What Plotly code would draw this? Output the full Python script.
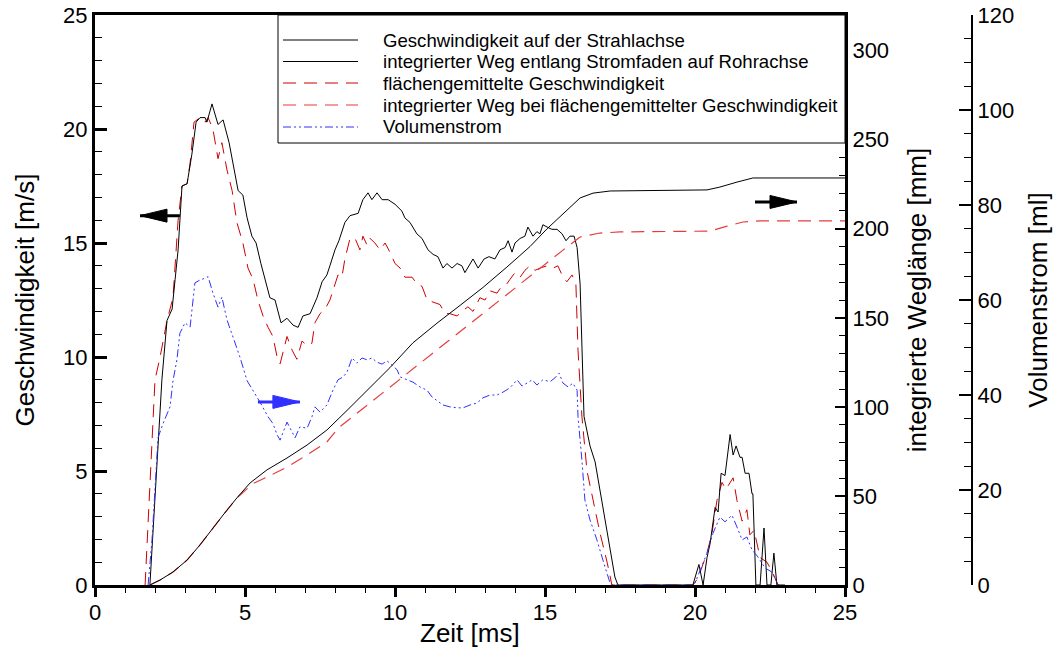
import plotly.graph_objects as go

# ---------------- data ----------------
# Geschwindigkeit auf der Strahlachse  [m/s]
t_vax = [1.83, 2.0, 2.23, 2.4, 2.57, 2.67, 2.77, 2.9, 3.07, 3.23, 3.37, 3.5, 3.67, 3.73, 3.9, 4.1, 4.27,
         4.47, 4.63, 4.77, 4.93, 5.07, 5.23, 5.37, 5.53, 5.7, 5.83, 6.0, 6.2, 6.4, 6.6, 6.77, 6.93, 7.17,
         7.4, 7.57, 7.73, 7.83, 8.0, 8.13, 8.33, 8.5, 8.77, 8.93, 9.1, 9.23, 9.4, 9.57, 9.77, 10.0, 10.23,
         10.33, 10.5, 10.73, 10.9, 11.1, 11.27, 11.43, 11.6, 11.73, 11.9, 12.07, 12.23, 12.33, 12.5, 12.6,
         12.77, 12.97, 13.13, 13.33, 13.5, 13.67, 13.77, 13.9, 14.0, 14.17, 14.33, 14.43, 14.6, 14.73,
         14.83, 14.93, 15.07, 15.23, 15.4, 15.57, 15.7, 15.83, 15.97, 16.07, 16.17, 16.23, 16.3, 16.33,
         16.5, 16.67, 16.83, 17.0, 17.17, 17.33, 17.43, 19.93, 20.13, 20.27, 20.4, 20.5, 20.67, 20.77,
         20.87, 21.0, 21.17, 21.27, 21.37, 21.5, 21.57, 21.67, 21.8, 21.9, 21.93, 22.03, 22.17, 22.3,
         22.4, 22.53, 22.63, 22.73, 23.0]
v_vax = [0.0, 3.7, 9.0, 11.6, 12.1, 13.4, 14.7, 17.5, 17.6, 18.9, 20.3, 20.5, 20.5, 20.3, 21.1, 20.2, 20.4,
         19.4, 18.3, 17.3, 17.1, 16.1, 15.3, 15.0, 14.1, 13.2, 12.6, 12.5, 11.5, 11.7, 11.4, 11.3, 11.8, 11.9,
         12.6, 13.3, 13.6, 14.0, 14.7, 15.1, 15.9, 16.2, 16.3, 16.9, 17.2, 16.9, 17.2, 16.9, 16.9, 16.7, 16.4,
         16.1, 15.9, 15.4, 15.2, 14.7, 14.5, 14.4, 13.9, 14.1, 13.9, 14.1, 14.0, 13.7, 14.1, 14.3,
         13.9, 14.3, 14.4, 14.3, 14.7, 14.8, 15.1, 14.6, 15.0, 15.2, 15.3, 15.7, 15.3, 15.5,
         15.4, 15.8, 15.7, 15.6, 15.6, 15.4, 15.1, 15.3, 15.3, 14.8, 13.2, 10.3, 7.4, 7.2,
         6.1, 5.4, 4.2, 3.0, 1.7, 0.35, 0.0, 0.0, 0.9, 0.0, 1.2, 1.8, 3.4, 3.2,
         4.9, 4.8, 6.6, 5.7, 6.1, 5.6, 5.6, 4.9, 4.9, 4.0, 4.0, 0.0, 0.0, 2.5,
         0.0, 0.0, 1.4, 0.0, 0.0]

# integrierter Weg entlang Stromfaden auf Rohrachse  [mm]
t_wax = [1.83, 2.17, 2.6, 3.07, 3.5, 3.93, 4.27, 4.73, 5.17, 5.73, 6.4, 7.07, 7.73, 8.4, 9.07, 9.83,
         10.6, 11.4, 12.17, 12.93, 13.73, 14.5, 15.07, 15.5, 16.17, 16.6, 17.17, 20.4, 20.83, 21.4,
         21.93, 25.0]
w_wax = [0.0, 2.8, 7.3, 14.0, 22.5, 32.0, 39.3, 48.9, 57.3, 64.6, 71.3, 78.6, 87.0, 98.0, 109.5, 122.0,
         136.0, 147.0, 157.0, 167.0, 178.5, 190.0, 200.0, 206.6, 217.3, 220.0, 221.2, 221.8, 223.4, 226.2,
         228.5, 228.5]

# flächengemittelte Geschwindigkeit  [m/s]
t_vfl = [1.67, 2.0, 2.17, 2.4, 2.6, 2.77, 2.9, 3.07, 3.17, 3.3, 3.5, 3.67, 3.77, 3.93, 4.1, 4.23, 4.4,
         4.57, 4.73, 4.93, 5.1, 5.27, 5.43, 5.6, 5.77, 5.93, 6.07, 6.17, 6.4, 6.57, 6.73, 6.9, 7.07, 7.23,
         7.33, 7.5, 7.67, 7.83, 7.93, 8.1, 8.23, 8.33, 8.5, 8.67, 8.83, 8.93, 9.07, 9.17, 9.33, 9.5, 9.67,
         9.83, 10.0, 10.17, 10.33, 10.57, 10.73, 10.9, 11.07, 11.27, 11.5, 11.67, 11.83, 12.07, 12.23,
         12.43, 12.6, 12.83, 13.0, 13.17, 13.4, 13.5, 13.67, 13.83, 14.0, 14.17, 14.33, 14.5, 14.67,
         14.83, 15.07, 15.27, 15.43, 15.6, 15.73, 15.9, 16.03, 16.1, 16.23, 16.4, 16.57, 16.83, 17.07,
         17.23, 19.93, 20.1, 20.4, 20.57, 20.73, 20.9, 21.03, 21.27, 21.4, 21.57, 21.73, 21.83, 21.97,
         22.17, 22.4, 22.6, 22.77, 23.07]
v_vfl = [0.0, 9.0, 10.0, 11.6, 12.6, 16.0, 17.5, 17.6, 18.5, 20.3, 20.5, 20.3, 20.5, 20.0, 18.7, 19.4, 18.2,
         17.3, 15.9, 15.0, 13.9, 13.4, 12.5, 11.8, 11.3, 10.9, 10.0, 9.7, 10.9, 10.3, 9.9, 10.7, 10.5, 10.6,
         11.5, 11.9, 12.1, 12.5, 12.9, 13.6, 13.5, 14.3, 15.2, 15.2, 14.7, 15.3, 14.9, 15.2, 15.0, 14.7, 15.0,
         14.6, 14.1, 13.9, 13.5, 13.5, 13.2, 13.1, 12.5, 12.4, 12.3, 11.9, 11.9, 11.8, 12.0,
         12.2, 12.0, 12.6, 12.5, 12.9, 12.8, 13.0, 13.1, 13.4, 13.7, 13.5, 13.8, 14.0, 13.8,
         13.9, 14.0, 13.9, 14.0, 13.5, 13.3, 13.6, 13.2, 10.3, 7.4, 5.0, 3.9, 2.3, 1.0,
         0.0, 0.0, 0.3, 1.4, 2.3, 3.7, 4.5, 4.2, 4.7, 3.7, 2.8, 3.3, 2.2, 2.4,
         1.2, 1.0, 0.5, 0.0, 0.0]

# integrierter Weg bei flächengemittelter Geschwindigkeit  [mm]
t_wfl = [1.83, 2.17, 2.6, 3.07, 3.5, 3.93, 4.27, 4.73, 5.27, 5.73, 6.4, 7.07, 7.73, 8.1, 10.07, 11.73,
         13.27, 14.6, 15.6, 16.17, 16.83, 17.5, 20.5, 21.07, 21.6, 22.17, 25.0]
w_wfl = [0.0, 2.8, 7.3, 14.0, 22.5, 32.0, 39.3, 48.9, 57.0, 60.6, 66.2, 73.0, 80.3, 88.0, 114.4, 136.6,
         157.0, 175.0, 188.0, 195.4, 197.6, 198.2, 198.7, 201.5, 203.8, 204.4, 204.4]

# Volumenstrom  [ml]
t_vol = [1.77, 1.9, 2.1, 2.27, 2.5, 2.6, 2.73, 2.83, 3.0, 3.17, 3.33, 3.5, 3.67, 3.77, 3.93, 4.1, 4.23,
         4.4, 4.6, 4.83, 5.07, 5.33, 5.5, 5.77, 5.93, 6.07, 6.17, 6.4, 6.57, 6.67, 6.83, 7.07, 7.23, 7.33,
         7.5, 7.73, 7.93, 8.1, 8.27, 8.4, 8.57, 8.73, 8.9, 9.07, 9.23, 9.4, 9.57, 9.73, 9.9, 10.07, 10.17,
         10.4, 10.6, 10.83, 11.07, 11.23, 11.4, 11.6, 11.83, 12.07, 12.27, 12.5, 12.73, 12.93, 13.17,
         13.4, 13.6, 13.83, 14.07, 14.23, 14.4, 14.57, 14.73, 14.93, 15.17, 15.33, 15.47, 15.6, 15.77,
         15.93, 16.07, 16.1, 16.23, 16.33, 16.5, 16.73, 17.0, 17.17, 17.23, 19.9, 20.0, 20.17, 20.4,
         20.6, 20.83, 21.0, 21.23, 21.4, 21.57, 21.73, 21.9, 22.1, 22.33, 22.57, 22.77]
q_vol = [0.0, 9.5, 31.0, 34.0, 37.5, 43.0, 47.4, 53.0, 55.2, 54.3, 63.6, 64.2, 64.6, 64.9, 61.5, 58.5, 60.6,
         55.8, 52.2, 48.0, 43.0, 40.4, 38.5, 35.4, 34.0, 31.6, 30.5, 34.3, 32.0, 31.0, 33.3, 33.0, 35.4, 37.5,
         36.4, 37.9, 41.0, 43.2, 43.8, 44.8, 47.8, 46.7, 47.8, 47.4, 47.8, 46.9, 46.5, 47.2, 46.3, 45.3, 43.8,
         43.2, 42.7, 41.7, 41.0, 39.6, 38.9, 37.9, 37.5, 37.3, 37.3, 37.9, 38.3, 39.4, 40.0,
         40.0, 40.6, 41.5, 43.2, 41.9, 42.5, 43.2, 42.1, 43.2, 42.8, 43.6, 44.6, 42.5, 41.7,
         42.5, 41.0, 35.4, 26.3, 17.9, 13.7, 9.5, 3.8, 0.4, 0.0, 0.0, 0.4, 3.2, 6.7,
         10.9, 14.3, 13.3, 14.7, 12.2, 9.5, 10.1, 7.4, 5.9, 3.6, 2.7, 0.0]

# ---------------- styling ----------------
FONT = "Liberation Sans, Arial, Helvetica, sans-serif"
BLACK = "#000000"
RED_V = "#d00000"
RED_W = "#e63c3c"
BLUE = "#3030ff"
DASH_RED = "13px,8px"
DASH_BLUE = "8px,3px,2px,3px,2px,3px"

series = [  # (name, x, y, axis, colour, dash, width)
    ("Volumenstrom", t_vol, q_vol, "y3", BLUE, DASH_BLUE, 1),
    ("integrierter Weg bei flächengemittelter Geschwindigkeit", t_wfl, w_wfl, "y2", RED_W, DASH_RED, 1.2),
    ("flächengemittelte Geschwindigkeit", t_vfl, v_vfl, "y", RED_V, DASH_RED, 1),
    ("integrierter Weg entlang Stromfaden auf Rohrachse", t_wax, w_wax, "y2", BLACK, "solid", 1),
    ("Geschwindigkeit auf der Strahlachse", t_vax, v_vax, "y", BLACK, "solid", 1),
]

fig = go.Figure()
for name, xs, ys, ax, col, dash, lw in series:
    fig.add_trace(go.Scatter(x=xs, y=ys, mode="lines", yaxis=ax, name=name,
                             line=dict(color=col, width=lw, dash=dash)))

# ---------------- layout ----------------
L, R_PLOT, R_VOL, TOP, BOT = 95, 845, 972, 15, 585
W, H = 1062, 650
PW = R_VOL - L
PH = BOT - TOP
xdom = (R_PLOT - L) / PW

tickfont = dict(family=FONT, size=22, color="black")
titlefont = dict(family=FONT, size=26, color="black")


def px_x(p):
    return (p - L) / PW


def px_y(p):
    return (BOT - p) / PH


fig.update_layout(
    width=W, height=H,
    margin=dict(l=L, r=W - R_VOL, t=TOP, b=H - BOT, autoexpand=False),
    paper_bgcolor="white", plot_bgcolor="white",
    font=dict(family=FONT, color="black"),
    showlegend=False,
    xaxis=dict(domain=[0, xdom], range=[0, 25], showgrid=False, zeroline=False, automargin=False,
               showline=True, linecolor="black", linewidth=3, mirror=True,
               ticks="outside", tickcolor="black", ticklen=9, tickwidth=2.5, dtick=5, tick0=0,
               minor=dict(ticks="outside", dtick=1, ticklen=5, tickwidth=1.2, tickcolor="black"),
               tickfont=tickfont, ticklabelstandoff=-3),
    yaxis=dict(range=[0, 25], showgrid=False, zeroline=False, automargin=False,
               showline=True, linecolor="black", linewidth=3,
               ticks="inside", tickcolor="black", ticklen=12, tickwidth=2.5, dtick=5, tick0=0,
               minor=dict(ticks="inside", dtick=1, ticklen=7, tickwidth=1.2, tickcolor="black"),
               tickfont=tickfont,
               title=dict(text="Geschwindigkeit [m/s]", font=titlefont, standoff=22)),
    yaxis2=dict(range=[0, 320], overlaying="y", side="right", anchor="x", automargin=False,
                showgrid=False, zeroline=False,
                showline=True, linecolor="black", linewidth=3,
                ticks="inside", tickcolor="black", ticklen=10, tickwidth=1.5, dtick=50, tick0=0,
                minor=dict(ticks="inside", dtick=10, ticklen=6, tickwidth=1, tickcolor="black"),
                tickfont=tickfont,
                title=dict(text="integrierte Weglänge [mm]", font=titlefont, standoff=20)),
    yaxis3=dict(range=[0, 120], overlaying="y", side="right", anchor="free", position=1.0,
                automargin=False, showgrid=False, zeroline=False,
                showline=True, linecolor="black", linewidth=2.2,
                ticks="inside", tickcolor="black", ticklen=12, tickwidth=2.2, dtick=20, tick0=0,
                minor=dict(ticks="inside", dtick=5, ticklen=7, tickwidth=1, tickcolor="black"),
                tickfont=tickfont,
                title=dict(text="Volumenstrom [ml]", font=titlefont, standoff=15)),
)

# x axis title placed exactly
fig.add_annotation(xref="paper", yref="paper", x=px_x((L + R_PLOT) / 2), y=px_y(633),
                   xanchor="center", yanchor="middle", showarrow=False, text="Zeit [ms]",
                   font=titlefont)

# ---------------- legend box (drawn by hand for exact spacing) ----------------
fig.add_shape(type="rect", xref="paper", yref="paper",
              x0=px_x(278), x1=px_x(R_PLOT), y0=px_y(143), y1=px_y(TOP),
              fillcolor="white", line=dict(color="black", width=1), layer="above")
legend_rows = [40, 61.5, 83, 105, 127]
legend_order = [4, 3, 2, 1, 0]
for ry, idx in zip(legend_rows, legend_order):
    name, _, _, _, col, dash, lw = series[idx]
    fig.add_shape(type="line", xref="paper", yref="paper",
                  x0=px_x(283), x1=px_x(358), y0=px_y(ry), y1=px_y(ry),
                  line=dict(color=col, width=lw, dash=dash), layer="above")
    fig.add_annotation(xref="paper", yref="paper", x=px_x(381), y=px_y(ry),
                       xanchor="left", yanchor="middle", showarrow=False, text=name,
                       font=dict(family=FONT, size=18.6, color="black"))

# ---------------- arrows (axis indicators) ----------------
arrows = [  # (tip_x, tail_x, y on left axis, direction, colour)
    (1.5, 2.83, 16.2, -1, BLACK),
    (6.83, 5.43, 8.03, 1, BLUE),
    (23.4, 22.0, 16.8, 1, BLACK),
]
for tip, tail, yv, d, col in arrows:
    fig.add_shape(type="line", xref="x", yref="y", x0=tail, x1=tip, y0=yv, y1=yv,
                  line=dict(color=col, width=3))
    fig.add_shape(type="path", xref="x", yref="y", xsizemode="pixel", ysizemode="pixel",
                  xanchor=tip, yanchor=yv,
                  path=f"M0,0 L{-27 * d},6.5 L{-27 * d},-6.5 Z",
                  fillcolor=col, line=dict(color=col, width=1))

fig.write_html("out.html")
